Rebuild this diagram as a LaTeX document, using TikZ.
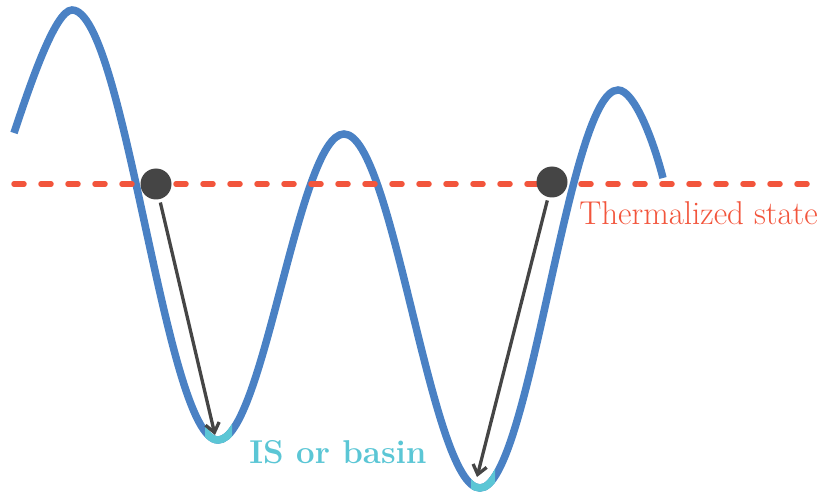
\documentclass[tikz,border=0pt]{standalone}
\usepackage{xcolor}
\usepackage{tikz}
\usetikzlibrary{arrows.meta, positioning}

\definecolor{curveblue}{HTML}{4A81C4}
\definecolor{basincyan}{HTML}{5BC6D5}
\definecolor{thermred}{HTML}{F2553C}
\definecolor{balldark}{HTML}{454545}

% The energy landscape, used twice (blue curve, cyan basin bottoms).
\newcommand{\landscapepath}{%
  (14,133) .. controls (29,88) and (55,10) .. (72,10)
  .. controls (124.6,10) and (165.4,440) .. (218,440)
  .. controls (263.4,440) and (298.6,134) .. (344,134)
  .. controls (393,134) and (431,488) .. (480,488)
  .. controls (529.7,488) and (568.3,90) .. (618,90)
  .. controls (634,90) and (653,139) .. (663,178)}

\begin{document}
\begin{tikzpicture}[
  x=1pt, y=-1pt,
  landscape/.style={line width=7.5pt, draw=curveblue},
  basin/.style={line width=7.5pt, draw=basincyan},
  thermline/.style={line width=5.5pt, draw=thermred, line cap=round,
    dash pattern=on 10pt off 17pt},
  ball/.style={circle, fill=balldark, minimum size=31pt, inner sep=0pt, outer sep=0pt},
  relax/.style={-{Straight Barb[length=9pt, width=14pt]}, line width=3.3pt,
    draw=balldark, shorten <=3.5pt},
  label/.style={inner sep=0pt, font=\fontsize{33}{36}\selectfont}
]
\useasboundingbox (0,0) rectangle (820,492);

% Energy landscape
\draw[landscape] \landscapepath;

% Basin bottoms in cyan
\begin{scope}
  \clip (205,400) rectangle (232,492);
  \draw[basin] \landscapepath;
\end{scope}
\begin{scope}
  \clip (471,400) rectangle (495,492);
  \draw[basin] \landscapepath;
\end{scope}

% Thermalized level
\coordinate (thermleft) at (14,184);
\coordinate (thermright) at (840,184);
\draw[thermline] (thermleft) -- (thermright);

% Systems at the thermalized level
\node[ball] (ballleft) at (156,184) {};
\node[ball] (ballright) at (552,182) {};

% Quench into the inherent structures
\coordinate (isleft) at (215,435);
\coordinate (isright) at (477,477);
\draw[relax] (ballleft) -- (isleft);
\draw[relax] (ballright) -- (isright);

% Labels
\node[label, text=thermred, anchor=east] (thermlabel) at (818,213) {Thermalized state};
\node[label, text=basincyan, font=\fontsize{33}{36}\selectfont\bfseries] (islabel) at (338,452) {IS or basin};

\end{tikzpicture}
\end{document}
